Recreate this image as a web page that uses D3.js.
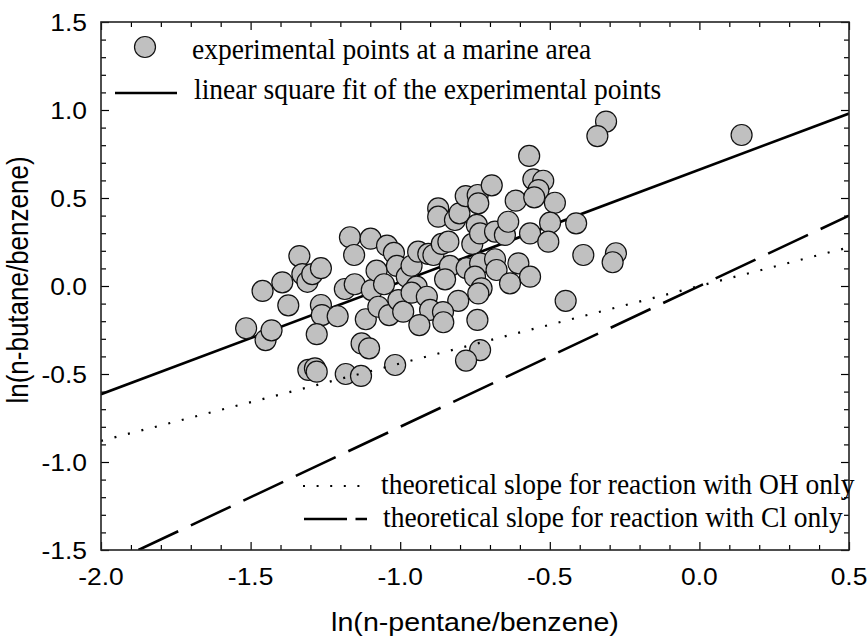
<!DOCTYPE html>
<html><head><meta charset="utf-8">
<script src="https://cdn.jsdelivr.net/npm/d3@7"></script>
<style>body{margin:0;background:#fff}</style>
</head><body>
<svg id="chart" width="868" height="637"></svg>
<script>
// ln(n-pentane/benzene)
const pentaneX = [
-1.515,-1.46,-1.45,-1.43,-1.394,-1.374,-1.337,-1.327,-1.31,-1.294,
-1.265,-1.265,-1.262,-1.279,-1.209,-1.307,-1.285,-1.279,-1.182,-1.131,
-1.168,-1.099,-1.044,-1.154,-1.021,-1.185,-1.152,-1.095,-1.079,-1.054,
-1.011,-0.978,-1.115,-1.129,-1.104,-1.073,-1.037,-1.006,-0.99,-1.017,
-0.962,-0.94,-0.906,-0.889,-0.861,-0.839,-0.759,-0.873,-0.873,-0.817,
-0.802,-0.781,-0.741,-0.739,-0.694,-0.744,-0.733,-0.683,-0.65,-0.639,
-0.614,-0.569,-0.555,-0.522,-0.538,-0.552,-0.483,-0.499,-0.412,-0.566,
-0.505,-0.388,-0.834,-0.778,-0.733,-0.683,-0.678,-0.605,-0.566,-0.633,
-0.85,-0.75,-0.728,-0.739,-0.806,-0.945,-0.962,-0.911,-0.9,-0.857,
-0.936,-0.856,-0.742,-0.447,-0.733,-0.78,-0.312,-0.341,0.141,-0.279,-0.29];
// ln(n-butane/benzene)
const butaneY = [
-0.24,-0.028,-0.307,-0.252,0.021,-0.11,0.17,0.068,0.024,0.068,
0.101,-0.108,-0.165,-0.274,-0.172,-0.477,-0.468,-0.487,-0.5,-0.511,
0.277,0.269,0.229,0.176,0.188,-0.017,0.01,-0.023,0.087,0.01,
0.114,0.053,-0.189,-0.326,-0.354,-0.118,-0.165,-0.08,-0.146,-0.449,
0.115,0.195,0.182,0.176,0.239,0.252,0.239,0.441,0.394,0.375,
0.413,0.511,0.517,0.47,0.572,0.347,0.299,0.309,0.29,0.365,
0.485,0.739,0.606,0.598,0.545,0.504,0.473,0.36,0.356,0.299,
0.252,0.176,0.114,0.101,0.129,0.152,0.091,0.129,0.053,0.015,
0.038,0.053,-0.013,-0.042,-0.084,-0.004,-0.038,-0.061,-0.136,-0.148,
-0.222,-0.206,-0.193,-0.084,-0.364,-0.424,0.934,0.852,0.858,0.186,0.135];

// line end points [x, y]
const fitLineX = [-2.0, 0.5];
const fitLineY = [-0.615, 0.98];
const ohLineX = [-2.0, 0.5];
const ohLineY = [-0.88, 0.22];
const clLineX = [-1.875, 0.5];
const clLineY = [-1.5, 0.40];

const xTickValues = [-2.0, -1.5, -1.0, -0.5, 0.0, 0.5];
const xTickLabels = ["-2.0", "-1.5", "-1.0", "-0.5", "0.0", "0.5"];
const yTickValues = [-1.5, -1.0, -0.5, 0.0, 0.5, 1.0, 1.5];
const yTickLabels = ["-1.5", "-1.0", "-0.5", "0.0", "0.5", "1.0", "1.5"];
const xMinorTicks = [-1.9,-1.8,-1.7,-1.6,-1.4,-1.3,-1.2,-1.1,-0.9,-0.8,-0.7,-0.6,-0.4,-0.3,-0.2,-0.1,0.1,0.2,0.3,0.4];
const yMinorTicks = [-1.4,-1.3,-1.2,-1.1,-0.9,-0.8,-0.7,-0.6,-0.4,-0.3,-0.2,-0.1,0.1,0.2,0.3,0.4,0.6,0.7,0.8,0.9,1.1,1.2,1.3,1.4];

const legendLabels = [
  "experimental points at a marine area",
  "linear square fit of the experimental points",
  "theoretical slope for reaction with OH only",
  "theoretical slope for reaction with Cl only"
];
const xTitle = "ln(n-pentane/benzene)";
const yTitle = "ln(n-butane/benzene)";

const m = {left:101, right:849, top:22, bottom:550};
const x = d3.scaleLinear().domain([-2, 0.5]).range([m.left, m.right]);
const y = d3.scaleLinear().domain([-1.5, 1.5]).range([m.bottom, m.top]);
const SX = 1.1;
const sans = "'Liberation Sans', Arial, Helvetica, sans-serif";
const serif = "'Liberation Serif', 'Times New Roman', serif";

const svg = d3.select('#chart');
svg.append('rect').attr('width', 868).attr('height', 637).attr('fill', '#fff');
svg.append('defs').append('clipPath').attr('id', 'clip')
  .append('rect').attr('x', m.left).attr('y', m.top)
  .attr('width', m.right - m.left).attr('height', m.bottom - m.top);

const plot = svg.append('g').attr('clip-path', 'url(#clip)');
const line = d3.line().x(d => x(d[0])).y(d => y(d[1]));
const pts = (xs, ys) => xs.map((v, i) => [v, ys[i]]);

plot.append('path').datum(pts(fitLineX, fitLineY)).attr('d', line)
  .attr('stroke', '#000').attr('stroke-width', 2.6).attr('fill', 'none');

plot.selectAll('circle.pt').data(pentaneX.map((v, i) => [v, butaneY[i]])).join('circle')
  .attr('class', 'pt')
  .attr('cx', d => x(d[0])).attr('cy', d => y(d[1])).attr('r', 10.5)
  .attr('fill', '#c0c0c0').attr('stroke', '#111').attr('stroke-width', 1.2);

plot.append('path').datum(pts(ohLineX, ohLineY)).attr('d', line)
  .attr('stroke', '#000').attr('stroke-width', 2.2).attr('fill', 'none')
  .attr('stroke-dasharray', '2,11.9');
plot.append('path').datum(pts(clLineX, clLineY)).attr('d', line)
  .attr('stroke', '#000').attr('stroke-width', 2.6).attr('fill', 'none')
  .attr('stroke-dasharray', '44,14');

// axes ticks (inward)
function addAxis(axisFn, scale, vals, size, tr) {
  const g = svg.append('g').attr('transform', tr)
    .call(axisFn(scale).tickValues(vals).tickSize(size).tickFormat(''));
  g.select('.domain').remove();
  g.selectAll('line').attr('stroke', '#000').attr('stroke-width', 1.2);
}
addAxis(d3.axisBottom, x, xTickValues, -8, `translate(0,${m.bottom})`);
addAxis(d3.axisBottom, x, xMinorTicks, -5, `translate(0,${m.bottom})`);
addAxis(d3.axisTop, x, xTickValues, -8, `translate(0,${m.top})`);
addAxis(d3.axisTop, x, xMinorTicks, -5, `translate(0,${m.top})`);
addAxis(d3.axisLeft, y, yTickValues, -8, `translate(${m.left},0)`);
addAxis(d3.axisLeft, y, yMinorTicks, -5, `translate(${m.left},0)`);
addAxis(d3.axisRight, y, yTickValues, -8, `translate(${m.right},0)`);
addAxis(d3.axisRight, y, yMinorTicks, -5, `translate(${m.right},0)`);

svg.append('rect').attr('x', m.left).attr('y', m.top)
  .attr('width', m.right - m.left).attr('height', m.bottom - m.top)
  .attr('fill', 'none').attr('stroke', '#222').attr('stroke-width', 1.6);

// tick labels
svg.selectAll('text.xl').data(xTickValues).join('text').attr('class', 'xl')
  .attr('transform', d => `translate(${x(d)},585) scale(${SX},1)`)
  .attr('text-anchor', 'middle').attr('font-family', sans).attr('font-size', 24)
  .text((d, i) => xTickLabels[i]);
svg.selectAll('text.yl').data(yTickValues).join('text').attr('class', 'yl')
  .attr('transform', d => `translate(87,${y(d) + 9})  scale(${SX},1)`)
  .attr('text-anchor', 'end').attr('font-family', sans).attr('font-size', 24)
  .text((d, i) => yTickLabels[i]);

// titles
svg.append('text').attr('transform', `translate(${(m.left + m.right) / 2},631) scale(${SX},1)`)
  .attr('text-anchor', 'middle').attr('font-family', sans).attr('font-size', 26).text(xTitle);
svg.append('text').attr('transform', `translate(28,280) scale(${SX},1) rotate(-90)`)
  .attr('text-anchor', 'middle').attr('font-family', sans).attr('font-size', 26).text(yTitle);

// legend
const lg = svg.append('g');
lg.append('circle').attr('cx', 145).attr('cy', 47).attr('r', 10.5)
  .attr('fill', '#c0c0c0').attr('stroke', '#111').attr('stroke-width', 1.2);
lg.append('line').attr('x1', 115).attr('x2', 177).attr('y1', 93).attr('y2', 93)
  .attr('stroke', '#000').attr('stroke-width', 2.6);
lg.append('line').attr('x1', 303).attr('x2', 362).attr('y1', 486).attr('y2', 486)
  .attr('stroke', '#000').attr('stroke-width', 2.2).attr('stroke-dasharray', '2,11.6');
lg.append('line').attr('x1', 304).attr('x2', 367).attr('y1', 519).attr('y2', 519)
  .attr('stroke', '#000').attr('stroke-width', 2.6).attr('stroke-dasharray', '43,8.5');
const legendPos = [[192, 59], [194, 99], [381, 494], [383, 527]];
lg.selectAll('text').data(legendLabels).join('text')
  .attr('transform', (d, i) => `translate(${legendPos[i][0]},${legendPos[i][1]}) scale(0.965,1)`)
  .attr('font-family', serif).attr('font-size', 28.5).text(d => d);
</script>
</body></html>
